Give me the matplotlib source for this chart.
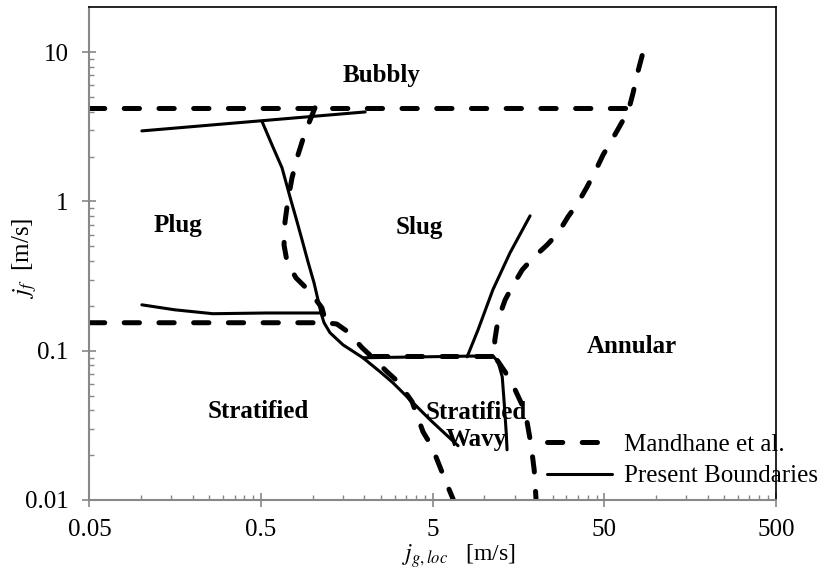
import matplotlib
matplotlib.use("Agg")
import matplotlib.pyplot as plt
from matplotlib.ticker import FixedLocator, NullFormatter

plt.rcParams['font.family'] = ['Liberation Serif', 'DejaVu Serif']
plt.rcParams['mathtext.fontset'] = 'stix'
plt.rcParams['lines.scale_dashes'] = False

# Mandhane et al. boundaries (j_g, j_f) in m/s
mand_bubbly_x = [0.05, 68.0]
mand_bubbly_y = [4.24, 4.24]

mand_annular_x = [83.0, 77.5, 73.5, 68.7, 63.4, 55.4, 49.1, 44.1, 39.6, 35.1, 30.7,
                  26.9, 23.2, 19.2, 16.6, 14.5, 13.2, 12.0, 11.5, 11.4, 13.2, 15.1,
                  17.3, 18.7, 19.5, 20.0]
mand_annular_y = [9.5, 7.05, 5.34, 3.98, 3.41, 2.59, 2.05, 1.58, 1.25, 0.98, 0.79,
                  0.616, 0.512, 0.419, 0.348, 0.268, 0.219, 0.161, 0.118, 0.0925,
                  0.0722, 0.0547, 0.039, 0.0234, 0.0159, 0.01]

mand_wavy_x = [2.2, 11.4]
mand_wavy_y = [0.0925, 0.0925]

mand_plug_x = [1.03, 0.90, 0.82, 0.757, 0.717, 0.689, 0.680, 0.708, 0.798, 0.964, 1.13, 1.19]
mand_plug_y = [4.24, 2.88, 2.05, 1.44, 1.025, 0.730, 0.512, 0.394, 0.308, 0.248, 0.194, 0.156]

mand_strat_x = [0.05, 1.19, 1.38, 1.60, 1.94, 2.21, 2.71, 3.14, 3.79, 4.39, 4.95, 5.90, 6.6]
mand_strat_y = [0.154, 0.154, 0.151, 0.134, 0.1046, 0.091, 0.0722, 0.0619, 0.0455,
                0.0286, 0.0227, 0.01365, 0.01]

# present boundaries
pres_bubbly_x = [0.101, 2.02]
pres_bubbly_y = [2.97, 3.98]

pres_plug_x = [0.506, 0.579, 0.662, 0.737, 0.798, 0.866, 0.938, 1.017, 1.073, 1.117,
               1.163, 1.26, 1.50, 1.96, 2.47, 2.93, 3.69, 4.82, 7.02]
pres_plug_y = [3.44, 2.39, 1.68, 1.07, 0.777, 0.553, 0.394, 0.285, 0.219, 0.179,
               0.154, 0.132, 0.1095, 0.0897, 0.0722, 0.061, 0.0469, 0.0345, 0.0231]

pres_strat_x = [0.101, 0.157, 0.262, 0.541, 1.117]
pres_strat_y = [0.203, 0.188, 0.177, 0.179, 0.179]

pres_wavy_x = [1.96, 11.2, 12.0, 12.7, 13.0, 13.4, 13.55]
pres_wavy_y = [0.0897, 0.0925, 0.0843, 0.0669, 0.0469, 0.0282, 0.0217]

pres_annular_x = [7.93, 9.18, 11.2, 14.1, 18.45]
pres_annular_y = [0.091, 0.138, 0.256, 0.453, 0.801]

# regime names and where they sit
regimes = ['Bubbly', 'Plug', 'Slug', 'Stratified', 'Stratified\nWavy', 'Annular']
regime_x = [2.53, 0.164, 4.16, 0.48, 8.94, 72.5]
regime_y = [6.93, 0.687, 0.666, 0.039, 0.0314, 0.106]

x_ticks = [0.05, 0.5, 5, 50, 500]
y_ticks = [0.01, 0.1, 1, 10]


def main():
    fig = plt.figure(figsize=(8.33, 5.69), dpi=100)
    ax = fig.add_axes([0.1074, 0.1213, 0.8242, 0.8659])

    dash = dict(color='black', lw=3.6, dashes=(11, 14), dash_capstyle='round',
                solid_capstyle='round')
    solid = dict(color='black', lw=2.2, solid_capstyle='round')

    ax.plot(mand_bubbly_x, mand_bubbly_y, label='Mandhane et al.', **dash)
    ax.plot(mand_annular_x, mand_annular_y, **dash)
    ax.plot(mand_wavy_x, mand_wavy_y, **dash)
    ax.plot(mand_plug_x, mand_plug_y, **dash)
    ax.plot(mand_strat_x, mand_strat_y, **dash)

    ax.plot(pres_bubbly_x, pres_bubbly_y, label='Present Boundaries', **solid)
    ax.plot(pres_plug_x, pres_plug_y, **solid)
    ax.plot(pres_strat_x, pres_strat_y, **solid)
    ax.plot(pres_wavy_x, pres_wavy_y, **solid)
    ax.plot(pres_annular_x, pres_annular_y, **solid)

    for name, x, y in zip(regimes, regime_x, regime_y):
        ax.text(x, y, name, ha='center', va='center', fontsize=18,
                fontweight='bold', linespacing=1.25)

    ax.set_xscale('log')
    ax.set_yscale('log')
    ax.set_xlim(0.05, 500)
    ax.set_ylim(0.01, 20)

    ax.xaxis.set_major_locator(FixedLocator(x_ticks))
    ax.set_xticklabels([str(t) for t in x_ticks])
    ax.xaxis.set_minor_locator(FixedLocator(
        [0.05 * k * 10 ** d for d in range(4) for k in range(2, 10)]))
    ax.xaxis.set_minor_formatter(NullFormatter())
    ax.yaxis.set_major_locator(FixedLocator(y_ticks))
    ax.set_yticklabels([str(t) for t in y_ticks])
    ax.yaxis.set_minor_locator(FixedLocator(
        [0.01 * k * 10 ** d for d in range(3) for k in range(2, 10)]))
    ax.yaxis.set_minor_formatter(NullFormatter())

    ax.tick_params(which='major', direction='inout', length=10, width=1.2,
                   color='#888888', labelsize=18)
    ax.tick_params(axis='x', which='major', pad=9)
    ax.tick_params(axis='y', which='major', pad=10)
    ax.tick_params(which='minor', direction='in', length=3.6, width=1.0,
                   color='#888888')

    for side in ['left', 'bottom']:
        ax.spines[side].set_color('#888888')
        ax.spines[side].set_linewidth(1.5)
    for side in ['top', 'right']:
        ax.spines[side].set_color('black')
        ax.spines[side].set_linewidth(1.2)

    ax.set_xlabel(r'$j_{g,loc}$   [m/s]', fontsize=17, va='top')
    ax.xaxis.set_label_coords(0.538, -0.085)
    ax.set_ylabel(r'$j_f$  [m/s]', fontsize=18, va='center')
    ax.yaxis.set_label_coords(-0.095, 0.49)

    leg = ax.legend(loc='upper left', bbox_to_anchor=(0.666, 0.135), frameon=False,
                    fontsize=18, borderpad=0, borderaxespad=0, handlelength=2.6,
                    handletextpad=0.48, labelspacing=0.36)
    leg.set_zorder(5)

    fig.savefig('out.png', dpi=100)


if __name__ == '__main__':
    main()
